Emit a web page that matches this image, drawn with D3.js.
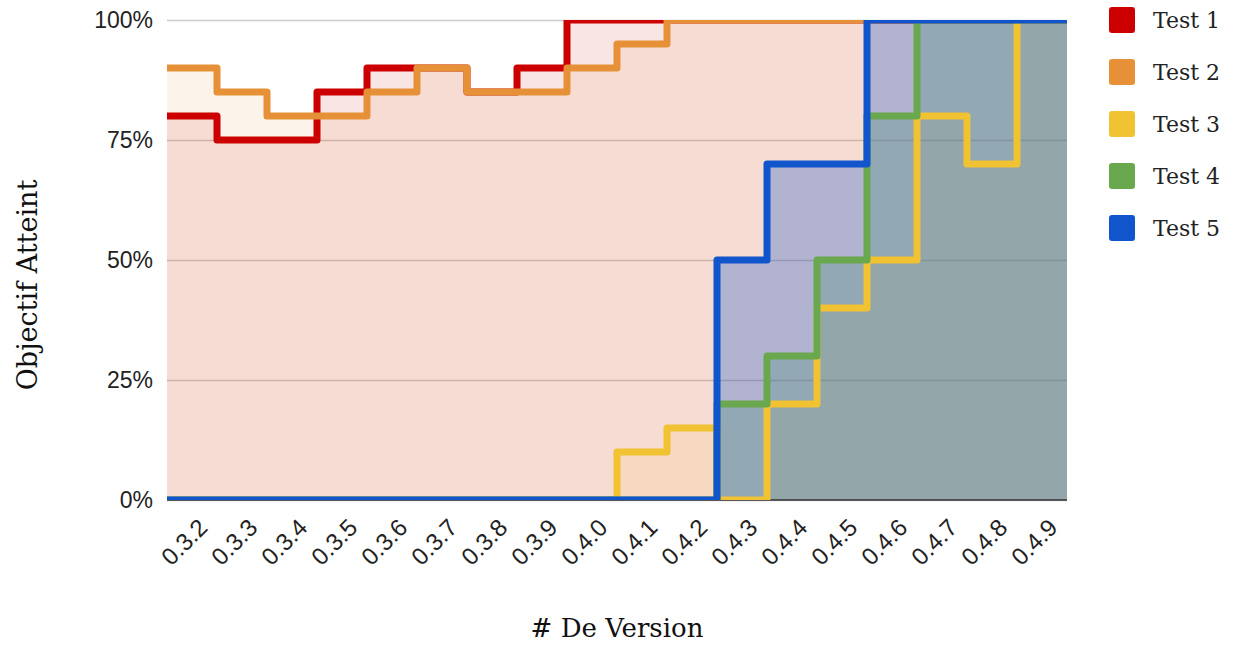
<!DOCTYPE html>
<html>
<head>
<meta charset="utf-8">
<script src="https://cdn.jsdelivr.net/npm/d3@7"></script>
<style>
  html, body { margin: 0; padding: 0; background: #fff; }
  svg { display: block; }
</style>
</head>
<body>
<svg id="chart" width="1240" height="645"></svg>
<script>
const categories = ["0.3.2","0.3.3","0.3.4","0.3.5","0.3.6","0.3.7","0.3.8","0.3.9",
  "0.4.0","0.4.1","0.4.2","0.4.3","0.4.4","0.4.5","0.4.6","0.4.7","0.4.8","0.4.9"];
const seriesNames = ["Test 1","Test 2","Test 3","Test 4","Test 5"];
const test1 = [80,75,75,85,90,90,85,90,100,100,100,100,100,100,100,100,100,100];
const test2 = [90,85,80,80,85,90,85,85,90,95,100,100,100,100,100,100,100,100];
const test3 = [0,0,0,0,0,0,0,0,0,10,15,0,20,40,50,80,70,100];
const test4 = [0,0,0,0,0,0,0,0,0,0,0,20,30,50,80,100,100,100];
const test5 = [0,0,0,0,0,0,0,0,0,0,0,50,70,70,100,100,100,100];
const yTicks = [0,25,50,75,100];
const colors = ["#cc0000","#e69138","#f1c232","#6aa84f","#1155cc"];
const fillOpacity = [0.1,0.1,0.12,0.3,0.3];
const allSeries = [test1,test2,test3,test4,test5];

const svg = d3.select("#chart");
const pLeft = 167, pRight = 1067, pTop = 20, pBottom = 500;

const x = d3.scaleBand().domain(categories).range([pLeft, pRight]).padding(0);
const y = d3.scaleLinear().domain([0,100]).range([pBottom, pTop]);

svg.append("defs").append("clipPath").attr("id","plotclip")
  .append("rect").attr("x", pLeft).attr("y", pTop).attr("width", pRight-pLeft).attr("height", pBottom-pTop);

// gridlines
const grid = svg.append("g").attr("transform", `translate(${pLeft},0)`)
  .call(d3.axisLeft(y).tickValues(yTicks).tickSize(-(pRight-pLeft)).tickFormat(""));
grid.select(".domain").remove();
grid.selectAll(".tick line").attr("stroke", "#cccccc").attr("stroke-width", 1.3);

// y labels
const yAxis = svg.append("g").attr("transform", `translate(${pLeft},0)`)
  .call(d3.axisLeft(y).tickValues(yTicks).tickSize(0).tickPadding(14).tickFormat(d => d + "%"));
yAxis.select(".domain").remove();
yAxis.selectAll("text").attr("font-family", "'Liberation Sans', Arial, sans-serif")
  .attr("font-size", 23).attr("fill", "#222");

function pts(vals) {
  const p = vals.map((v, i) => [x(categories[i]), v]);
  p.push([x(categories[categories.length-1]) + x.bandwidth(), vals[vals.length-1]]);
  return p;
}

const area = d3.area().curve(d3.curveStepAfter)
  .x(d => d[0]).y0(y(0)).y1(d => y(d[1]));
const line = d3.line().curve(d3.curveStepAfter)
  .x(d => d[0]).y(d => y(d[1]));

const plot = svg.append("g").attr("clip-path", "url(#plotclip)");
allSeries.forEach((vals, i) => {
  plot.append("path").attr("d", area(pts(vals)))
    .attr("fill", colors[i]).attr("fill-opacity", fillOpacity[i]);
});

// baseline
svg.append("line").attr("x1", pLeft).attr("x2", pRight).attr("y1", y(0)).attr("y2", y(0))
  .attr("stroke", "#333").attr("stroke-width", 1.5);

const lines = svg.append("g").attr("clip-path", "url(#plotclip)");
allSeries.forEach((vals, i) => {
  lines.append("path").attr("d", line(pts(vals)))
    .attr("fill", "none").attr("stroke", colors[i]).attr("stroke-width", 7)
    .attr("stroke-linejoin", "round");
});

// x labels
const xAxis = svg.append("g").attr("transform", `translate(0,${pBottom})`)
  .call(d3.axisBottom(x).tickSize(0).tickFormat(d => d));
xAxis.select(".domain").remove();
xAxis.selectAll("text")
  .attr("font-family", "'Liberation Sans', Arial, sans-serif")
  .attr("font-size", 24).attr("fill", "#222")
  .attr("text-anchor", "end")
  .attr("dy", 0).attr("y", 0)
  .attr("transform", "translate(17,29) rotate(-45)");

// axis titles
svg.append("text").attr("x", 617).attr("y", 637)
  .attr("text-anchor", "middle")
  .attr("font-family", "'DejaVu Serif', serif").attr("font-size", 26).attr("fill", "#111")
  .text("# De Version");
svg.append("text").attr("transform", "translate(37,285) rotate(-90)")
  .attr("text-anchor", "middle")
  .attr("font-family", "'DejaVu Serif', serif").attr("font-size", 27).attr("fill", "#111")
  .text("Objectif Atteint");

// legend
const legend = svg.append("g");
seriesNames.forEach((name, i) => {
  const g = legend.append("g").attr("transform", `translate(1109,${7 + i*52})`);
  g.append("rect").attr("width", 26).attr("height", 26).attr("rx", 3).attr("fill", colors[i]);
  g.append("text").attr("x", 44).attr("y", 21)
    .attr("font-family", "'DejaVu Serif', serif").attr("font-size", 22).attr("fill", "#222")
    .text(name);
});
</script>
</body>
</html>
